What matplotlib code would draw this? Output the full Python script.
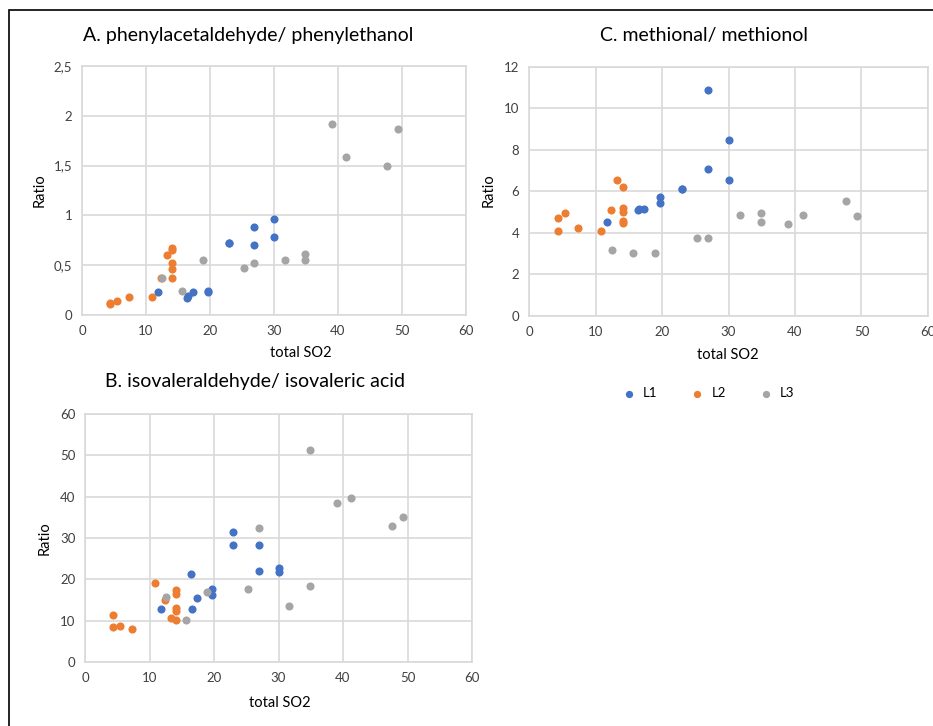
import matplotlib.pyplot as plt
from matplotlib.patches import Rectangle

plt.rcParams['font.family'] = ['Lato', 'DejaVu Sans']

# total SO2 per sample, for each lot
x_l1 = [11.8, 16.4, 16.6, 17.3, 19.7, 19.7, 23.0, 23.0, 26.9, 26.9, 30.0, 30.0]
x_l2 = [4.4, 4.4, 5.4, 7.3, 10.9, 12.4, 13.3, 14.1, 14.1, 14.1, 14.1, 14.1]
x_l3 = [12.5, 15.7, 18.9, 25.3, 26.9, 31.7, 34.9, 34.9, 39.0, 41.2, 47.6, 49.3]

# A. phenylacetaldehyde/ phenylethanol
a_l1 = [0.23, 0.17, 0.19, 0.23, 0.24, 0.23, 0.72, 0.72, 0.88, 0.70, 0.96, 0.78]
a_l2 = [0.11, 0.12, 0.14, 0.18, 0.18, 0.37, 0.60, 0.67, 0.65, 0.52, 0.46, 0.37]
a_l3 = [0.37, 0.24, 0.55, 0.47, 0.52, 0.55, 0.61, 0.55, 1.92, 1.59, 1.50, 1.87]

# B. isovaleraldehyde/ isovaleric acid
b_l1 = [12.8, 21.3, 12.8, 15.4, 17.7, 16.1, 31.5, 28.2, 28.2, 22.0, 22.7, 21.7]
b_l2 = [11.4, 8.4, 8.8, 8.1, 19.0, 15.0, 10.6, 17.3, 16.5, 13.1, 12.4, 10.2]
b_l3 = [15.7, 10.2, 16.9, 17.6, 32.3, 13.5, 51.4, 18.4, 38.5, 39.6, 33.0, 35.2]

# C. methional/ methionol
c_l1 = [4.51, 5.11, 5.17, 5.17, 5.75, 5.44, 6.12, 6.10, 10.87, 7.07, 8.46, 6.56]
c_l2 = [4.74, 4.08, 4.95, 4.22, 4.08, 5.09, 6.56, 6.20, 5.19, 4.99, 4.59, 4.49]
c_l3 = [3.19, 3.04, 3.04, 3.77, 3.77, 4.86, 4.95, 4.51, 4.43, 4.86, 5.53, 4.80]

series = ['L1', 'L2', 'L3']
colors = ['#4472C4', '#ED7D31', '#A5A5A5']
W, H = 933, 726

fig = plt.figure(figsize=(W / 100, H / 100), dpi=100)


def box(l, t, r, b):
    return [l / W, 1 - b / H, (r - l) / W, (b - t) / H]


def panel(rect, ys, yticks, ylabels, title, tpos, ylpos, xlpos):
    ax = fig.add_axes(box(*rect))
    for xs, y, c, n in zip([x_l1, x_l2, x_l3], ys, colors, series):
        ax.scatter(xs, y, s=34, color=c, label=n, zorder=3, linewidths=0)
    ax.set_xlim(0, 60)
    ax.set_ylim(yticks[0], yticks[-1])
    ax.set_xticks(range(0, 61, 10))
    ax.set_yticks(yticks)
    ax.set_yticklabels(ylabels)
    ax.grid(True, color='#d9d9d9', linewidth=1.2)
    ax.set_axisbelow(True)
    for s in ax.spines.values():
        s.set_color('#d9d9d9')
        s.set_linewidth(1.2)
    ax.tick_params(length=0, labelsize=9.5, labelcolor='#404040', pad=7)
    fig.text(tpos[0] / W, 1 - tpos[1] / H, title, ha='center', va='center', fontsize=14)
    fig.text(ylpos[0] / W, 1 - ylpos[1] / H, 'Ratio', ha='center', va='center',
             rotation=90, fontsize=10.5)
    fig.text(xlpos[0] / W, 1 - xlpos[1] / H, 'total SO2', ha='center', va='center',
             fontsize=10.5)
    return ax


panel((82, 66, 466, 315), [a_l1, a_l2, a_l3], [0, 0.5, 1, 1.5, 2, 2.5],
      ['0', '0,5', '1', '1,5', '2', '2,5'],
      'A. phenylacetaldehyde/ phenylethanol', (248, 35), (40, 190), (301, 353))
panel((85, 414, 472, 662), [b_l1, b_l2, b_l3], list(range(0, 61, 10)),
      [str(v) for v in range(0, 61, 10)],
      'B. isovaleraldehyde/ isovaleric acid', (255, 382), (45, 538), (280, 703))
axc = panel((529, 67, 928, 316), [c_l1, c_l2, c_l3], list(range(0, 13, 2)),
            [str(v) for v in range(0, 13, 2)],
            'C. methional/ methionol', (704, 35), (489, 190), (728, 355))

h, l = axc.get_legend_handles_labels()
fig.legend(h, l, loc='center', bbox_to_anchor=(705 / W, 1 - 393 / H), ncol=3,
           frameon=False, fontsize=9.5, handletextpad=0.1, columnspacing=2.0,
           markerscale=0.9)

fig.patches.append(Rectangle((9 / W, -0.1), 1.2, 1 - 10 / H + 0.1, transform=fig.transFigure,
                             fill=False, edgecolor='black', linewidth=1.2))

fig.savefig('out.png', dpi=100)
